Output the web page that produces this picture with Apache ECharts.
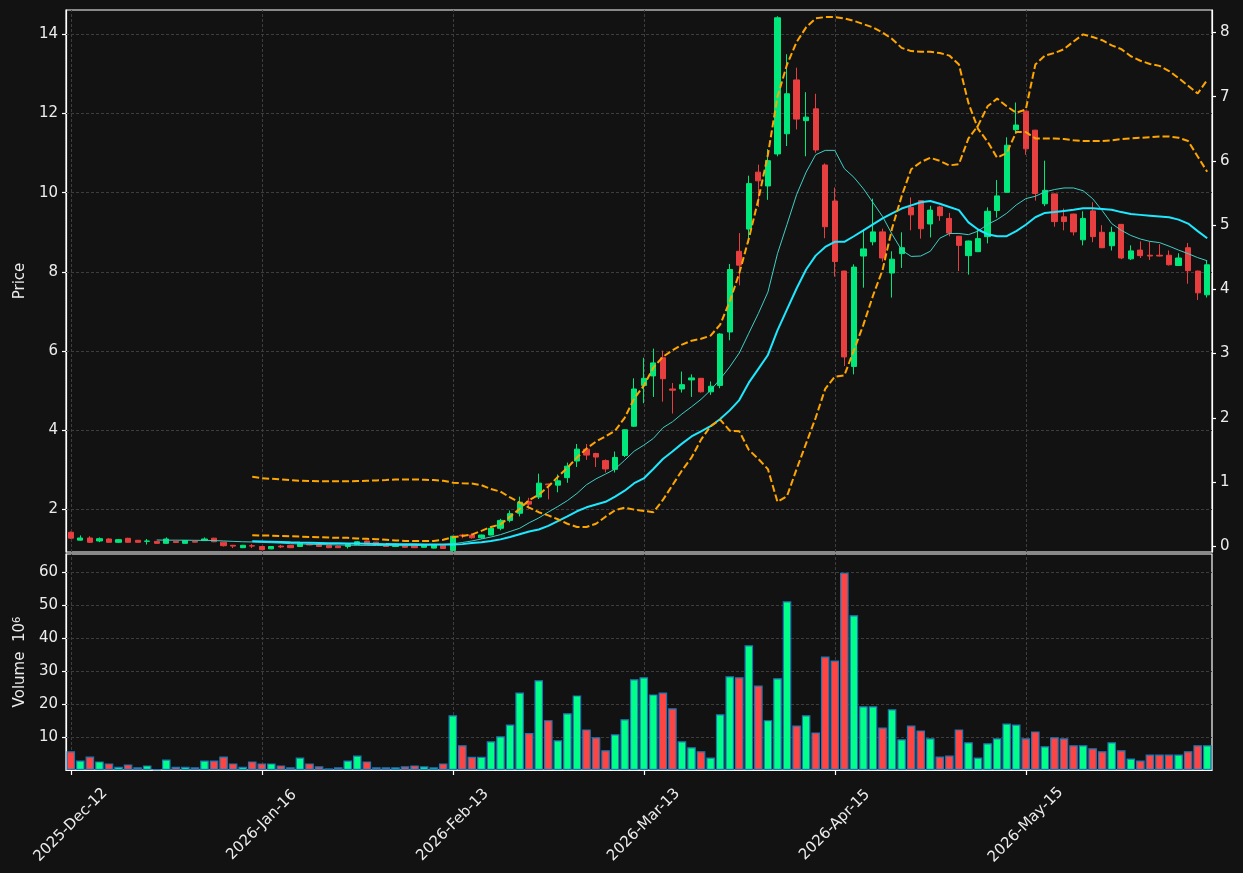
<!DOCTYPE html>
<html>
<head>
<meta charset="utf-8">
<script src="https://cdn.jsdelivr.net/npm/echarts@6/dist/echarts.min.js"></script>
<style>
html,body{margin:0;padding:0;background:#121212;}
#chart{width:1243px;height:873px;}
</style>
</head>
<body>
<div id="chart"></div>
<script>
const dates = [
'2025-Dec-12','2025-Dec-15','2025-Dec-16','2025-Dec-17','2025-Dec-18','2025-Dec-19','2025-Dec-22','2025-Dec-23','2025-Dec-29','2025-Dec-30',
'2026-Jan-02','2026-Jan-05','2026-Jan-06','2026-Jan-07','2026-Jan-08','2026-Jan-09','2026-Jan-12','2026-Jan-13','2026-Jan-14','2026-Jan-15',
'2026-Jan-16','2026-Jan-19','2026-Jan-20','2026-Jan-21','2026-Jan-22','2026-Jan-23','2026-Jan-26','2026-Jan-27','2026-Jan-28','2026-Jan-29',
'2026-Jan-30','2026-Feb-02','2026-Feb-03','2026-Feb-04','2026-Feb-05','2026-Feb-06','2026-Feb-09','2026-Feb-10','2026-Feb-11','2026-Feb-12',
'2026-Feb-13','2026-Feb-16','2026-Feb-17','2026-Feb-18','2026-Feb-19','2026-Feb-20','2026-Feb-23','2026-Feb-24','2026-Feb-25','2026-Feb-26',
'2026-Feb-27','2026-Mar-02','2026-Mar-03','2026-Mar-04','2026-Mar-05','2026-Mar-06','2026-Mar-09','2026-Mar-10','2026-Mar-11','2026-Mar-12',
'2026-Mar-13','2026-Mar-16','2026-Mar-17','2026-Mar-18','2026-Mar-19','2026-Mar-20','2026-Mar-23','2026-Mar-24','2026-Mar-25','2026-Mar-26',
'2026-Mar-27','2026-Mar-30','2026-Mar-31','2026-Apr-01','2026-Apr-07','2026-Apr-08','2026-Apr-09','2026-Apr-10','2026-Apr-13','2026-Apr-14',
'2026-Apr-15','2026-Apr-16','2026-Apr-17','2026-Apr-20','2026-Apr-21','2026-Apr-22','2026-Apr-23','2026-Apr-24','2026-Apr-27','2026-Apr-28',
'2026-Apr-29','2026-Apr-30','2026-May-05','2026-May-06','2026-May-07','2026-May-08','2026-May-11','2026-May-12','2026-May-13','2026-May-14',
'2026-May-15','2026-May-18','2026-May-19','2026-May-20','2026-May-21','2026-May-22','2026-May-26','2026-May-27','2026-May-28','2026-May-29',
'2026-Jun-01','2026-Jun-02','2026-Jun-03','2026-Jun-04','2026-Jun-05','2026-Jun-08','2026-Jun-09','2026-Jun-10','2026-Jun-11','2026-Jun-12'
];

const opens = [
1.42,1.22,1.275,1.20,1.25,1.166,1.267,1.217,1.19,1.19,
1.14,1.19,1.14,1.19,1.21,1.27,1.17,1.09,1.03,1.08,
1.06,1.00,1.07,1.09,1.06,1.12,1.11,1.09,1.07,1.06,
1.11,1.20,1.17,1.11,1.06,1.11,1.10,1.04,1.02,1.09,
0.96,1.35,1.35,1.28,1.35,1.52,1.72,1.90,2.20,2.31,
2.64,2.61,2.80,3.22,3.52,3.41,3.23,3.01,3.36,4.10,
5.13,5.37,5.83,5.04,5.04,5.27,5.31,4.97,5.13,6.48,
8.52,9.08,10.52,10.17,10.98,11.49,12.85,11.82,12.12,10.70,
9.79,8.02,5.61,8.40,8.76,9.01,7.97,8.46,9.63,9.80,
9.21,9.64,9.35,8.90,8.41,8.51,8.89,9.55,10.01,11.59,
12.06,11.58,9.72,9.97,9.39,9.46,8.81,9.54,9.00,8.66,
9.20,8.33,8.55,8.42,8.42,8.42,8.16,8.61,8.02,7.42
];
const closes = [
1.27,1.275,1.166,1.258,1.166,1.233,1.166,1.166,1.20,1.14,
1.25,1.16,1.21,1.17,1.25,1.18,1.08,1.07,1.09,1.07,
0.98,1.06,1.05,1.03,1.14,1.10,1.06,1.03,1.03,1.11,
1.18,1.12,1.10,1.06,1.12,1.04,1.03,1.11,1.10,1.01,
1.32,1.33,1.28,1.35,1.52,1.72,1.89,2.18,2.13,2.66,
2.62,2.72,3.09,3.52,3.37,3.32,3.02,3.31,4.01,5.04,
5.31,5.70,5.30,5.01,5.15,5.32,4.97,5.11,6.43,8.06,
8.17,10.23,10.30,10.81,14.42,12.50,11.86,11.91,11.08,9.14,
8.26,5.85,8.12,8.58,9.01,8.35,8.32,8.61,9.44,9.09,
9.56,9.42,8.98,8.67,8.78,8.84,9.53,9.92,11.20,11.71,
11.11,9.98,10.06,9.27,9.27,9.01,9.35,8.89,8.61,9.00,
8.35,8.53,8.41,8.40,8.40,8.18,8.35,8.03,7.47,8.18
];
const lows = [
1.25,1.21,1.15,1.17,1.15,1.15,1.16,1.16,1.11,1.13,
1.13,1.15,1.13,1.16,1.20,1.17,1.06,1.02,1.02,1.02,
0.97,0.99,1.02,1.02,1.05,1.09,1.05,1.02,1.02,1.01,
1.10,1.11,1.09,1.05,1.05,1.03,1.02,1.03,1.01,1.00,
0.95,1.27,1.26,1.25,1.34,1.47,1.67,1.82,2.02,2.26,
2.25,2.43,2.67,3.07,3.25,3.07,2.93,2.93,3.32,4.08,
4.68,4.84,4.72,4.42,4.95,4.84,4.95,4.89,5.06,6.27,
7.66,8.73,9.64,9.82,10.92,11.18,11.60,10.92,11.01,8.85,
7.88,5.62,5.41,7.60,8.67,8.26,7.35,8.10,9.05,8.84,
8.87,9.29,8.90,8.02,7.93,8.50,8.72,9.37,10.00,11.49,
10.96,9.80,9.66,9.14,9.05,8.92,8.67,8.75,8.60,8.54,
8.32,8.30,8.35,8.30,8.39,8.16,8.15,7.70,7.29,7.35
];
const highs = [
1.44,1.34,1.32,1.29,1.27,1.25,1.28,1.22,1.25,1.20,
1.29,1.20,1.22,1.20,1.29,1.28,1.18,1.10,1.10,1.12,
1.07,1.07,1.10,1.10,1.15,1.13,1.12,1.10,1.08,1.12,
1.20,1.21,1.18,1.12,1.13,1.12,1.11,1.12,1.11,1.10,
1.33,1.38,1.39,1.36,1.53,1.76,1.97,2.32,2.29,2.90,
2.65,2.88,3.18,3.65,3.65,3.43,3.26,3.46,4.02,5.31,
5.83,6.06,6.01,5.19,5.48,5.41,5.32,5.23,6.45,8.20,
8.98,10.43,10.71,11.10,14.46,13.50,13.16,12.54,12.50,10.74,
10.13,8.03,8.19,9.07,9.85,9.09,8.52,9.00,9.88,9.81,
9.67,9.67,9.49,8.91,8.79,9.07,9.63,10.32,11.40,12.28,
12.07,11.59,10.81,9.98,9.60,9.47,9.53,9.76,9.18,9.14,
9.21,8.67,8.77,8.76,8.70,8.54,8.47,8.73,8.03,8.28
];
const volumes = [
5.7,2.9,4.1,2.6,2.0,1.0,1.7,0.8,1.4,0.2,
3.2,1.0,1.0,0.8,2.9,2.9,4.1,2.0,1.0,2.6,
2.0,2.0,1.4,0.8,3.8,2.0,1.1,0.5,0.8,2.9,
4.4,2.6,0.8,0.8,0.8,1.1,1.4,1.1,0.8,2.0,
16.6,7.5,4.0,4.0,8.7,10.2,13.8,23.5,11.2,27.2,
15.1,9.0,17.2,22.6,12.3,9.9,6.0,10.8,15.4,27.5,
28.1,22.9,23.5,18.7,8.7,6.9,5.7,3.8,16.9,28.4,
28.1,37.8,25.6,15.1,27.8,51.1,13.5,16.6,11.4,34.4,
33.2,59.8,46.9,19.3,19.3,12.9,18.4,9.3,13.5,12.0,
9.6,4.1,4.4,12.3,8.4,3.8,8.1,9.6,14.1,13.8,
9.6,11.7,7.2,9.9,9.6,7.5,7.5,6.6,5.7,8.4,
6.0,3.5,2.9,4.7,4.7,4.7,4.7,5.7,7.5,7.5
];

// moving average lines (first value index given)
const ma10Start = 9;
const ma10Values = [
1.225,1.22,1.22,1.22,1.217,1.215,1.21,1.20,1.19,1.18,
1.175,1.165,1.155,1.145,1.133,1.125,1.118,1.11,1.105,1.10,
1.095,1.09,1.088,1.085,1.083,1.082,1.082,1.083,1.09,1.10,
1.11,1.13,1.16,1.20,1.25,1.30,1.36,1.44,1.52,1.66,
1.78,1.93,2.07,2.22,2.40,2.62,2.77,2.89,3.02,3.24,
3.47,3.62,3.79,4.06,4.21,4.41,4.59,4.78,5.01,5.29,
5.60,5.95,6.45,6.95,7.49,8.46,9.20,9.95,10.52,10.96,
11.07,11.07,10.61,10.39,10.10,9.75,9.40,8.95,8.55,8.39,
8.40,8.52,8.85,8.97,8.97,8.94,9.03,9.20,9.32,9.48,
9.69,9.85,9.91,10.02,10.08,10.12,10.12,10.05,9.85,9.55,
9.22,9.05,8.92,8.83,8.77,8.74,8.65,8.55,8.46,8.36,8.28
];
const ma20Start = 19;
const ma20Values = [
1.19,1.185,1.18,1.175,1.167,1.16,1.155,1.15,1.145,1.14,
1.135,1.133,1.13,1.125,1.12,1.118,1.116,1.115,1.113,1.11,
1.108,1.11,1.12,1.15,1.17,1.20,1.24,1.30,1.37,1.44,
1.49,1.58,1.70,1.82,1.95,2.05,2.12,2.19,2.32,2.47,
2.66,2.78,3.02,3.27,3.46,3.66,3.84,3.97,4.10,4.28,
4.50,4.76,5.20,5.55,5.90,6.52,7.05,7.58,8.06,8.41,
8.63,8.76,8.76,8.90,9.05,9.20,9.35,9.48,9.60,9.68,
9.76,9.79,9.72,9.64,9.56,9.25,9.07,8.95,8.90,8.90,
9.03,9.19,9.38,9.49,9.51,9.54,9.57,9.61,9.61,9.59,
9.57,9.51,9.46,9.44,9.42,9.40,9.38,9.32,9.22,9.03,8.85
];
// dashed orange lines, right axis
const bandStart = 19;
const bandAValues = [
1.08,1.06,1.05,1.04,1.03,1.02,1.015,1.01,1.01,1.01,
1.01,1.015,1.02,1.025,1.03,1.04,1.04,1.04,1.035,1.03,
1.02,0.99,0.98,0.975,0.95,0.89,0.85,0.76,0.68,0.60,
0.53,0.48,0.42,0.35,0.30,0.30,0.35,0.46,0.56,0.60,
0.57,0.55,0.53,0.72,0.95,1.18,1.38,1.66,1.87,1.97,
1.80,1.79,1.50,1.36,1.20,0.69,0.78,1.20,1.60,2.00,
2.45,2.64,2.66,3.05,3.45,3.90,4.30,4.95,5.45,5.87,
5.98,6.05,6.00,5.93,5.95,6.35,6.55,6.85,6.97,6.85,
6.75,6.80,7.50,7.64,7.68,7.74,7.86,7.97,7.93,7.88,
7.80,7.74,7.63,7.56,7.51,7.48,7.40,7.29,7.17,7.05,7.26
];
const bandBValues = [
0.17,0.168,0.165,0.16,0.155,0.15,0.145,0.14,0.135,0.13,
0.13,0.12,0.115,0.11,0.10,0.09,0.083,0.08,0.08,0.083,
0.10,0.14,0.16,0.18,0.24,0.30,0.34,0.46,0.58,0.72,
0.80,0.93,1.08,1.22,1.38,1.52,1.63,1.71,1.80,2.00,
2.30,2.50,2.78,2.95,3.05,3.14,3.20,3.23,3.28,3.45,
3.81,4.25,4.79,5.40,6.10,7.00,7.50,7.85,8.08,8.22,
8.24,8.24,8.22,8.18,8.13,8.08,8.00,7.90,7.76,7.71,
7.70,7.70,7.68,7.64,7.50,6.90,6.50,6.30,6.05,6.12,
6.45,6.45,6.35,6.35,6.35,6.34,6.32,6.31,6.31,6.31,
6.32,6.34,6.35,6.36,6.37,6.38,6.38,6.36,6.31,6.07,5.83
];

const priceTicks = [2,4,6,8,10,12,14];
const rightTicks = [0,1,2,3,4,5,6,7,8];
const volumeTicks = [10,20,30,40,50,60];
const dateTickIndex = [0,20,40,60,80,100];

const UP = '#00ff88', DOWN = '#ff4444';
const UP_C = '#00e77c', DOWN_C = '#e73f3f';
const TXT = '#ececec';
const GRIDC = '#3d3d3d';
const FONT = 'DejaVu Sans';
const FS = 15;

function pad(start, vals){ return new Array(start).fill('-').concat(vals); }

const candleData = dates.map((d,i)=>[opens[i], closes[i], lows[i], highs[i]]);
const volData = volumes.map((v,i)=>({value:v, itemStyle:{color: closes[i]>=opens[i]?UP:DOWN}}));

const gridLineStyle = {color:GRIDC, type:[3,2], width:1};
const vLines = dateTickIndex.map(i=>({xAxis: dates[i]}));

const chart = echarts.init(document.getElementById('chart'));
chart.setOption({
  animation:false,
  backgroundColor:'#121212',
  textStyle:{fontFamily:FONT},
  grid:[
    {left:66, right:31, top:10, height:542, show:true, borderColor:'#ffffff', borderWidth:1.2, backgroundColor:'transparent'},
    {left:66, right:31, top:554, height:216, show:true, borderColor:'#ffffff', borderWidth:1.2, backgroundColor:'transparent'}
  ],
  xAxis:[
    {type:'category', gridIndex:0, data:dates, boundaryGap:true,
     axisLine:{show:false}, axisTick:{show:false}, axisLabel:{show:false}, splitLine:{show:false}},
    {type:'category', gridIndex:1, data:dates, boundaryGap:true,
     axisLine:{show:true, lineStyle:{color:'#ffffff', width:1.2}},
     axisTick:{show:true, alignWithLabel:true, interval:19, length:5, lineStyle:{color:'#ffffff', width:1.2}},
     axisLabel:{show:true, interval:19, rotate:45, align:'center', verticalAlign:'middle', margin:55,
       color:TXT, fontSize:FS, fontFamily:FONT},
     splitLine:{show:false}}
  ],
  yAxis:[
    {type:'value', gridIndex:0, position:'left', min:0.921, max:14.617, scale:true,
     axisLine:{show:true, lineStyle:{color:'#ffffff', width:1.2}},
     axisTick:{show:true, length:4, customValues:priceTicks, lineStyle:{color:'#ffffff', width:1.2}},
     axisLabel:{show:true, customValues:priceTicks, color:TXT, fontSize:FS, margin:8, fontFamily:FONT},
     splitLine:{show:false},
     name:'Price', nameLocation:'middle', nameRotate:90, nameGap:36,
     nameTextStyle:{color:TXT, fontSize:FS, fontFamily:FONT}},
    {type:'value', gridIndex:0, position:'right', min:-0.09, max:8.35, scale:true,
     axisLine:{show:true, lineStyle:{color:'#ffffff', width:1.2}},
     axisTick:{show:true, length:4, customValues:rightTicks, lineStyle:{color:'#ffffff', width:1.2}},
     axisLabel:{show:true, customValues:rightTicks, color:TXT, fontSize:FS, margin:8, fontFamily:FONT},
     splitLine:{show:false}},
    {type:'value', gridIndex:1, position:'left', min:0, max:65.45,
     axisLine:{show:true, lineStyle:{color:'#ffffff', width:1.2}},
     axisTick:{show:true, length:4, customValues:volumeTicks, lineStyle:{color:'#ffffff', width:1.2}},
     axisLabel:{show:true, customValues:volumeTicks, color:TXT, fontSize:FS, margin:8, fontFamily:FONT},
     splitLine:{show:false},
     name:'Volume  10{sup|6}', nameLocation:'middle', nameRotate:90, nameGap:37,
     nameTextStyle:{color:TXT, fontSize:FS, fontFamily:FONT,
       rich:{sup:{fontSize:10, color:TXT, fontFamily:FONT, verticalAlign:'top', padding:[0,0,7,0]}}}}
  ],
  series:[
    {type:'candlestick', name:'OHLC', xAxisIndex:0, yAxisIndex:0, data:candleData, barWidth:'60%', z:2,
     itemStyle:{color:UP_C, color0:DOWN_C, borderColor:UP_C, borderColor0:DOWN_C, borderWidth:1},
     markLine:{silent:true, symbol:['none','none'], label:{show:false}, z:1, animation:false,
       lineStyle:gridLineStyle,
       data: priceTicks.map(v=>({yAxis:v})).concat(vLines)}},
    {type:'line', name:'MA10', xAxisIndex:0, yAxisIndex:0, data:pad(ma10Start, ma10Values), z:3,
     showSymbol:false, symbol:'none', lineStyle:{color:'#3fcfc4', width:1}},
    {type:'line', name:'MA20', xAxisIndex:0, yAxisIndex:0, data:pad(ma20Start, ma20Values), z:3,
     showSymbol:false, symbol:'none', lineStyle:{color:'#1ee8ff', width:2}},
    {type:'line', name:'A', xAxisIndex:0, yAxisIndex:1, data:pad(bandStart, bandAValues), z:4,
     showSymbol:false, symbol:'none', lineStyle:{color:'#ffa500', width:2, type:[7,3]}},
    {type:'line', name:'B', xAxisIndex:0, yAxisIndex:1, data:pad(bandStart, bandBValues), z:4,
     showSymbol:false, symbol:'none', lineStyle:{color:'#ffa500', width:2, type:[7,3]}},
    {type:'bar', name:'Volume', xAxisIndex:1, yAxisIndex:2, data:volData, barWidth:'90%', z:2,
     itemStyle:{borderColor:'#1f77b4', borderWidth:1.2},
     markLine:{silent:true, symbol:['none','none'], label:{show:false}, z:1, animation:false,
       lineStyle:gridLineStyle,
       data: volumeTicks.map(v=>({yAxis:v})).concat(vLines)}}
  ]
});
</script>
</body>
</html>
